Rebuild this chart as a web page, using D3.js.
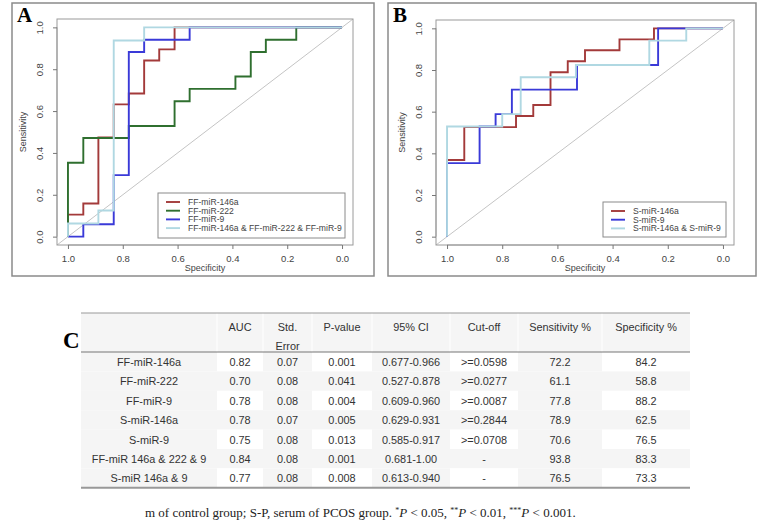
<!DOCTYPE html>
<html><head><meta charset="utf-8">
<script src="https://cdn.jsdelivr.net/npm/d3@7"></script>
<style>body{margin:0;background:#fff}svg{display:block}</style>
</head><body>
<script>
// ---------- ROC data (specificity, sensitivity step vertices) ----------
const specA146 = [1,1,0.944,0.889,0.833,0.778,0.722,0.667,0.611,0];
const sensA146 = [0,0.105,0.158,0.474,0.632,0.684,0.842,0.895,1,1];
const specA222 = [1,1,0.944,0.778,0.611,0.556,0.389,0.333,0.278,0.167,0];
const sensA222 = [0,0.353,0.471,0.529,0.647,0.706,0.765,0.882,0.941,1,1];
const specA9 = [1,0.944,0.833,0.778,0.722,0.556,0];
const sensA9 = [0,0.059,0.294,0.882,0.941,1,1];
const specAComb = [1,1,0.889,0.833,0.722,0];
const sensAComb = [0,0.0625,0.125,0.9375,1,1];

const specB146 = [1,1,0.9375,0.75,0.6875,0.625,0.5625,0.5,0.375,0.25,0];
const sensB146 = [0,0.368,0.526,0.579,0.632,0.789,0.842,0.895,0.947,1,1];
const specB9 = [1,1,0.882,0.824,0.765,0.529,0.235,0];
const sensB9 = [0,0.353,0.529,0.588,0.706,0.824,1,1];
const specBComb = [1,1,0.8,0.733,0.533,0.267,0.133,0];
const sensBComb = [0,0.529,0.588,0.765,0.824,0.941,1,1];

const legendA = ["FF-miR-146a","FF-miR-222","FF-miR-9","FF-miR-146a & FF-miR-222 & FF-miR-9"];
const legendB = ["S-miR-146a","S-miR-9","S-miR-146a & S-miR-9"];
const axisTicks = [1.0,0.8,0.6,0.4,0.2,0.0];

// ---------- Table data ----------
const tableHeaders = ["", "AUC", "Std.|Error", "P-value", "95% CI", "Cut-off", "Sensitivity %", "Specificity %"];
const rowLabels = ["FF-miR-146a","FF-miR-222","FF-miR-9","S-miR-146a","S-miR-9","FF-miR 146a & 222 & 9","S-miR 146a  & 9"];
const aucVals = ["0.82","0.70","0.78","0.78","0.75","0.84","0.77"];
const stdErrVals = ["0.07","0.08","0.08","0.07","0.08","0.08","0.08"];
const pVals = ["0.001","0.041","0.004","0.005","0.013","0.001","0.008"];
const ciVals = ["0.677-0.966","0.527-0.878","0.609-0.960","0.629-0.931","0.585-0.917","0.681-1.00","0.613-0.940"];
const cutoffVals = [">=0.0598",">=0.0277",">=0.0087",">=0.2844",">=0.0708","-","-"];
const sensVals = ["72.2","61.1","77.8","78.9","70.6","93.8","76.5"];
const specVals = ["84.2","58.8","88.2","62.5","76.5","83.3","73.3"];

const COL = {red:"#a33a3a", green:"#2f6f2f", blue:"#3a3ad8", light:"#b0d8e2"};

const W = 769, H = 526;
const svg = d3.select("body").append("svg").attr("width", W).attr("height", H);
const FONT = "Liberation Sans, Arial, sans-serif";

function panel(opts) {
  const g = svg.append("g");
  g.append("rect").attr("x", opts.frame[0]).attr("y", opts.frame[1])
    .attr("width", opts.frame[2]-opts.frame[0]).attr("height", opts.frame[3]-opts.frame[1])
    .attr("fill","none").attr("stroke","#8a8a8a").attr("stroke-width",1.5);
  g.append("text").attr("x", opts.frame[0]+5).attr("y", opts.frame[1]+19)
    .attr("font-family","Liberation Serif, Times New Roman, serif").attr("font-weight","bold")
    .attr("font-size",21).text(opts.letter);

  const [bx0, by0, bx1, by1] = opts.box;
  const x = d3.scaleLinear().domain([1.04,-0.04]).range([bx0,bx1]);
  const y = d3.scaleLinear().domain([-0.04,1.04]).range([by1,by0]);

  const clipId = "clip"+opts.letter;
  g.append("clipPath").attr("id",clipId).append("rect")
    .attr("x",bx0).attr("y",by0).attr("width",bx1-bx0).attr("height",by1-by0);

  g.append("line").attr("clip-path",`url(#${clipId})`)
    .attr("x1",x(1.04)).attr("y1",y(-0.04)).attr("x2",x(-0.04)).attr("y2",y(1.04))
    .attr("stroke","#c4c4c4").attr("stroke-width",1);

  const line = d3.line().x(d=>x(d[0])).y(d=>y(d[1])).curve(d3.curveStepAfter);
  opts.curves.forEach(c => {
    const pts = c.spec.map((s,i)=>[s,c.sens[i]]);
    g.append("path").attr("d", line(pts)).attr("fill","none")
      .attr("stroke", c.color).attr("stroke-width", 1.9);
  });

  g.append("rect").attr("x",bx0).attr("y",by0).attr("width",bx1-bx0).attr("height",by1-by0)
    .attr("fill","none").attr("stroke","#9a9a9a").attr("stroke-width",1);

  const xa = g.append("g").attr("transform",`translate(0,${by1})`)
    .call(d3.axisBottom(x).tickValues(axisTicks).tickFormat(d3.format(".1f")).tickSize(4).tickSizeOuter(0));
  xa.select(".domain").attr("d", `M${x(1)},0H${x(0)}`).attr("stroke","#9a9a9a");
  xa.selectAll(".tick line").attr("stroke","#777");
  xa.selectAll("text").attr("font-family",FONT).attr("font-size",9.5).attr("fill","#444").attr("dy","1.0em");
  const ya = g.append("g").attr("transform",`translate(${bx0},0)`)
    .call(d3.axisLeft(y).tickValues(axisTicks).tickFormat(d3.format(".1f")).tickSize(4).tickSizeOuter(0));
  ya.select(".domain").attr("d", `M0,${y(0)}V${y(1)}`).attr("stroke","#9a9a9a");
  ya.selectAll(".tick line").attr("stroke","#777");
  ya.selectAll("text").attr("font-family",FONT).attr("font-size",9.5).attr("fill","#444")
    .attr("x",0).attr("dy",0).attr("text-anchor","middle")
    .attr("transform","translate(-14,0) rotate(-90)");

  g.append("text").attr("x",(bx0+bx1)/2).attr("y",by1+26).attr("text-anchor","middle")
    .attr("font-family",FONT).attr("font-size",9).attr("fill","#444").text("Specificity");
  g.append("text").attr("transform",`translate(${bx0-31},${(by0+by1)/2}) rotate(-90)`)
    .attr("text-anchor","middle").attr("font-family",FONT).attr("font-size",9).attr("fill","#444").text("Sensitivity");

  const [lx0, ly0, lx1, ly1] = opts.legendBox;
  g.append("rect").attr("x",lx0).attr("y",ly0).attr("width",lx1-lx0).attr("height",ly1-ly0)
    .attr("fill","#fff").attr("stroke","#8a8a8a").attr("stroke-width",1);
  opts.legend.forEach((t,i)=>{
    const yy = opts.legendY0 + i*8.7;
    g.append("line").attr("x1",lx0+8).attr("x2",lx0+22).attr("y1",yy).attr("y2",yy)
      .attr("stroke",opts.curves[i].color).attr("stroke-width",1.9);
    g.append("text").attr("x",lx0+30).attr("y",yy+3).attr("font-family",FONT).attr("font-size",8.6)
      .attr("fill","#444").text(t);
  });
}

panel({
  letter:"A", frame:[12,3,374,276], box:[57,19,353,245],
  curves:[
    {spec:specA146, sens:sensA146, color:COL.red},
    {spec:specA222, sens:sensA222, color:COL.green},
    {spec:specA9, sens:sensA9, color:COL.blue},
    {spec:specAComb, sens:sensAComb, color:COL.light}
  ],
  legend:legendA, legendBox:[158,193,345,238], legendY0:202
});
panel({
  letter:"B", frame:[388,3,756,276], box:[436,20,734,245],
  curves:[
    {spec:specB146, sens:sensB146, color:COL.red},
    {spec:specB9, sens:sensB9, color:COL.blue},
    {spec:specBComb, sens:sensBComb, color:COL.light}
  ],
  legend:legendB, legendBox:[603,202,726,237], legendY0:211
});

// ---------- Table ----------
const colEdges = [81,217,263,312,372,450,518,602,690];
const tTop = 313, hBottom = 352, rowH = 19.4;
const tg = svg.append("g");
svg.append("text").attr("x",63).attr("y",348).attr("font-family","Liberation Serif, Times New Roman, serif")
  .attr("font-weight","bold").attr("font-size",23).text("C");

tg.append("rect").attr("x",colEdges[0]).attr("y",tTop).attr("width",colEdges[8]-colEdges[0])
  .attr("height",hBottom-tTop).attr("fill","#f5f5f5");
const columns = [rowLabels, aucVals, stdErrVals, pVals, ciVals, cutoffVals, sensVals, specVals];
rowLabels.forEach((r,i)=>{
  const y0 = hBottom + i*rowH;
  for (let c=0;c<8;c++){
    const white = (i%2===0) ? (c%2===1) : false;
    tg.append("rect").attr("x",colEdges[c]).attr("y",y0).attr("width",colEdges[c+1]-colEdges[c])
      .attr("height",rowH).attr("fill", white ? "#ffffff" : "#f5f5f5");
    tg.append("text").attr("x",(colEdges[c]+colEdges[c+1])/2).attr("y",y0+14)
      .attr("text-anchor","middle").attr("font-family",FONT).attr("font-size",10.9).attr("fill","#333")
      .text(columns[c][i]);
  }
});
for (let c=1;c<8;c++){
  tg.append("line").attr("x1",colEdges[c]).attr("x2",colEdges[c]).attr("y1",tTop).attr("y2",hBottom)
    .attr("stroke","#fbfbfb").attr("stroke-width",1.5);
}
tableHeaders.forEach((h,c)=>{
  const parts = h.split("|");
  parts.forEach((p,k)=>{
    tg.append("text").attr("x",(colEdges[c]+colEdges[c+1])/2).attr("y",tTop+18+k*19)
      .attr("text-anchor","middle").attr("font-family",FONT).attr("font-size",10.9).attr("fill","#333").text(p);
  });
});
tg.append("line").attr("x1",colEdges[0]).attr("x2",colEdges[8]).attr("y1",tTop).attr("y2",tTop)
  .attr("stroke","#999").attr("stroke-width",1);
tg.append("line").attr("x1",colEdges[0]).attr("x2",colEdges[8]).attr("y1",hBottom).attr("y2",hBottom)
  .attr("stroke","#777").attr("stroke-width",1.2);
const tBot = hBottom + rowLabels.length*rowH;
tg.append("line").attr("x1",colEdges[0]).attr("x2",colEdges[8]).attr("y1",tBot).attr("y2",tBot)
  .attr("stroke","#999").attr("stroke-width",2);

// ---------- Footnote ----------
const fn = svg.append("text").attr("x",145).attr("y",517).attr("font-family","Liberation Serif, Times New Roman, serif")
  .attr("font-size",13).attr("fill","#222");
fn.append("tspan").text("m of control group; S-P, serum of PCOS group. ");
[["*","0.05, "],["**","0.01, "],["***","0.001."]].forEach(([s,v])=>{
  fn.append("tspan").attr("font-size",8).attr("dy",-4.5).text(s);
  fn.append("tspan").attr("font-style","italic").attr("dy",4.5).text("P");
  fn.append("tspan").text(" < "+v);
});
</script>
</body></html>
